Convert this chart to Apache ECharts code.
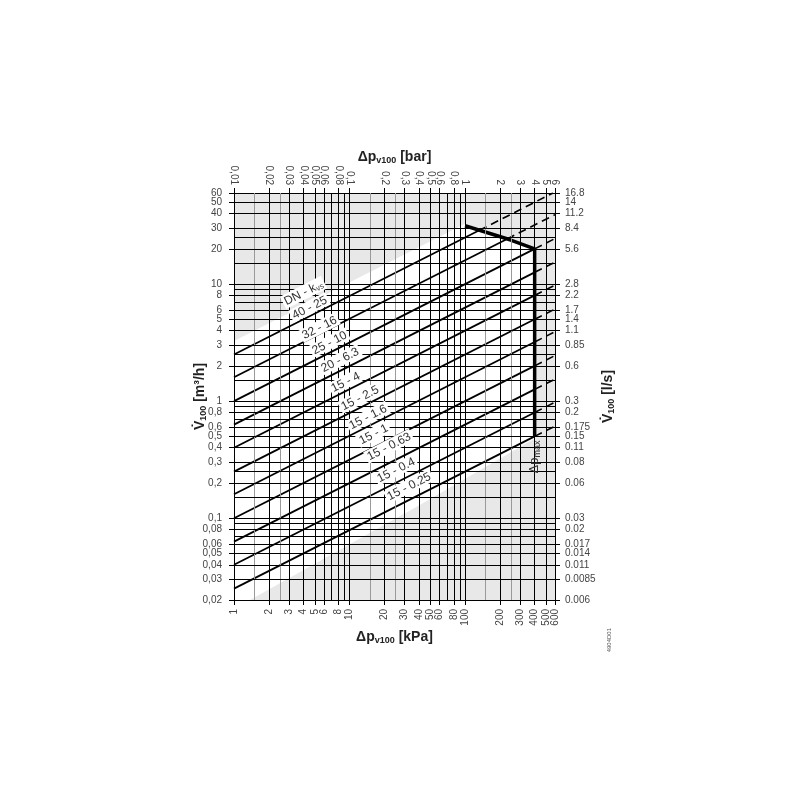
<!DOCTYPE html>
<html><head><meta charset="utf-8">
<script src="https://cdn.jsdelivr.net/npm/echarts@6/dist/echarts.min.js"></script>
<style>html,body{margin:0;padding:0;background:#fff}#c{width:800px;height:800px}</style>
</head><body><div id="c"></div>
<script>
// ---------- axis ticks ----------
const dpTicks = [1,2,3,4,5,6,8,10,20,30,40,50,60,80,100,200,300,400,500,600];
const barTicks = [0.01,0.02,0.03,0.04,0.05,0.06,0.08,0.1,0.2,0.3,0.4,0.5,0.6,0.8,1,2,3,4,5,6];
const barLabels = ['0,01','0,02','0,03','0,04','0,05','0,06','0,08','0,1','0,2','0,3','0,4','0,5','0,6','0,8','1','2','3','4','5','6'];
const flowTicks = [60,50,40,30,20,10,8,6,5,4,3,2,1,0.8,0.6,0.5,0.4,0.3,0.2,0.1,0.08,0.06,0.05,0.04,0.03,0.02];
const flowLabels = ['60','50','40','30','20','10','8','6','5','4','3','2','1','0,8','0,6','0,5','0,4','0,3','0,2','0,1','0,08','0,06','0,05','0,04','0,03','0,02'];
const lsLabels = ['16.8','14','11.2','8.4','5.6','2.8','2.2','1.7','1.4','1.1','0.85','0.6','0.3','0.2','0.175','0.15','0.11','0.08','0.06','0.03','0.02','0.017','0.014','0.011','0.0085','0.006'];

// ---------- grid lines ----------
const gridXBlack = [2,3,4,5,6,7,8,9,10,20,30,40,50,60,70,80,90,100,200,300,400,500];
const gridXGray = [1.5,2.5,15,25,150,250];
const gridY = [0.025,0.03,0.04,0.05,0.06,0.07,0.08,0.09,0.1,0.15,0.2,0.25,0.3,0.4,0.5,0.6,0.7,0.8,0.9,1,1.5,2,2.5,3,4,5,6,7,8,9,10,15,20,25,30,40,50];

// ---------- valve lines (Kvs) ----------
const kvsNames = ['40 - 25','32 - 16','25 - 10','20 - 6.3','15 - 4','15 - 2.5','15 - 1.6','15 - 1','15 - 0.63','15 - 0.4','15 - 0.25'];
const startDp = [1,1,1,1,1,1,1,1,1,1,1];
const startV  = [2.5,1.6,1.0,0.63,0.4,0.25,0.16,0.1,0.063,0.04,0.025];
const solidEndDp = [133,231,400,400,400,400,400,400,400,400,400];
const solidEndV  = [28.8,24.3,20,12.6,8,5,3.2,2,1.26,0.8,0.5];
const dashEndDp = [576,600,600,600,600,600,600,600,600,600,600];
const dashEndV  = [60,39.2,24.5,15.4,9.8,6.12,3.92,2.45,1.54,0.98,0.61];

// ---------- max pressure curve ----------
const maxDp = [100,245,400,400];
const maxV  = [31.5,23.9,20,0.5];

// ---------- label anchors ----------
const labelTexts = ['DN - k|vs'].concat(kvsNames);
const labelDp = [2.66,3.12,3.80,4.64,5.55,6.78,8.27,9.70,11.85,13.9,16.96,20.7];
const labelV  = [6.91,5.25,3.54,2.63,1.85,1.25,0.875,0.602,0.448,0.327,0.212,0.149];

// ---------- white band in background ----------
const bandDp = [1,100,400,400,40.9,1.375,1];
const bandV  = [3.27,32.7,20,0.48,0.13,0.02,0.02];

const FONT = '"Liberation Sans", Arial, sans-serif';
function lookup(vals, labels, v) {
  for (let i = 0; i < vals.length; i++) if (Math.abs(vals[i] / v - 1) < 1e-6) return labels[i];
  return '';
}
const maxOf = a => Math.max.apply(null, a);
const withoutMax = a => a.filter(v => v !== maxOf(a));
const chart = echarts.init(document.getElementById('c'), null, {renderer: 'canvas'});

const axisLineStyle = {color: '#000', width: 1};
const tickLabel = {fontSize: 10, color: '#444', fontFamily: FONT, hideOverlap: false, showMaxLabel: true, showMinLabel: true};
const nameStyle = {
  fontFamily: FONT, fontSize: 14, fontWeight: 'bold', color: '#222',
  rich: {
    a: {fontFamily: FONT, fontSize: 14, fontWeight: 'bold', color: '#222'},
    s: {fontFamily: FONT, fontSize: 9, fontWeight: 'bold', color: '#222', padding: [6, 0, 0, 0]}
  }
};

const series = [];
series.push({
  type: 'custom', name: 'band', xAxisIndex: 0, yAxisIndex: 0, silent: true, z: 0,
  data: [0],
  renderItem: function (params, api) {
    return {type: 'polygon', shape: {points: bandDp.map((d, i) => api.coord([d, bandV[i]]))}, style: {fill: '#ffffff'}};
  }
});
series.push({
  type: 'line', name: 'grid', xAxisIndex: 0, yAxisIndex: 0, silent: true, z: 1,
  data: [[1, 0.02]], symbol: 'none', lineStyle: {width: 0},
  markLine: {
    silent: true, symbol: ['none', 'none'], label: {show: false}, animation: false,
    lineStyle: {color: '#000', width: 1, type: 'solid'},
    data: gridXBlack.map(v => ({xAxis: v}))
      .concat(gridXGray.map(v => ({xAxis: v, lineStyle: {color: '#9a9a9a', width: 1, type: 'solid'}})))
      .concat(gridY.map(v => ({yAxis: v})))
  }
});
for (let i = 0; i < kvsNames.length; i++) {
  series.push({
    type: 'line', name: kvsNames[i], xAxisIndex: 0, yAxisIndex: 0, z: 3, symbol: 'none', silent: true,
    data: [[startDp[i], startV[i]], [solidEndDp[i], solidEndV[i]]],
    lineStyle: {color: '#000', width: 1.8}
  });
  series.push({
    type: 'line', name: kvsNames[i] + ' ext', xAxisIndex: 0, yAxisIndex: 0, z: 3, symbol: 'none', silent: true,
    data: [[solidEndDp[i], solidEndV[i]], [dashEndDp[i], dashEndV[i]]],
    lineStyle: {color: '#000', width: 1.6, type: [8, 5]}
  });
}
series.push({
  type: 'line', name: 'dpmax', xAxisIndex: 0, yAxisIndex: 0, z: 4, symbol: 'none', silent: true,
  data: maxDp.map((d, i) => [d, maxV[i]]),
  lineStyle: {color: '#000', width: 3.5}
});
series.push({
  type: 'scatter', name: 'labels', xAxisIndex: 0, yAxisIndex: 0, z: 6, symbolSize: 1, silent: true,
  itemStyle: {opacity: 0},
  data: labelDp.map((d, i) => [d, labelV[i], i]),
  label: {
    show: true, position: 'inside', align: 'left', verticalAlign: 'middle', rotate: 27,
    backgroundColor: '#ffffff', padding: [1, 2, 0, 2], opacity: 1,
    textBorderWidth: 0, fontFamily: FONT, fontSize: 12, color: '#333',
    formatter: function (p) {
      const t = labelTexts[p.data[2]];
      if (t.indexOf('|') >= 0) { const parts = t.split('|'); return '{a|' + parts[0] + '}{s|' + parts[1] + '}'; }
      return '{a|' + t + '}';
    },
    rich: {
      a: {fontFamily: FONT, fontSize: 12, color: '#333', textBorderWidth: 0},
      s: {fontFamily: FONT, fontSize: 8, color: '#333', textBorderWidth: 0, padding: [5, 0, 0, 0]}
    }
  },
  labelLayout: {hideOverlap: false}
});
series.push({
  type: 'scatter', name: 'dpmaxlabel', xAxisIndex: 0, yAxisIndex: 0, z: 6, symbolSize: 1, silent: true,
  itemStyle: {opacity: 0},
  data: [[400, 0.333]],
  label: {
    show: true, position: 'inside', align: 'center', verticalAlign: 'middle', rotate: 90,
    textBorderWidth: 0, opacity: 1,
    formatter: '{a|Δp}{s|max}',
    rich: {
      a: {fontFamily: FONT, fontSize: 13, color: '#333', textBorderWidth: 0},
      s: {fontFamily: FONT, fontSize: 9, color: '#333', textBorderWidth: 0, padding: [5, 0, 0, 0]}
    }
  }
});

// main axes carry every label but the end one; an overlaid twin axis carries the end label
function xAx(min, max, pos, ticks, labels, margin, main, name, gap) {
  const o = {
    type: 'log', logBase: 10, min: min, max: max * 1.000001, position: pos, gridIndex: 0,
    axisLine: {show: main, lineStyle: axisLineStyle},
    axisTick: {show: main, customValues: ticks, length: 5, lineStyle: axisLineStyle},
    axisLabel: Object.assign({customValues: main ? withoutMax(ticks) : [maxOf(ticks)], rotate: 90, margin: margin,
      formatter: v => lookup(ticks, labels, v)}, tickLabel),
    splitLine: {show: false}
  };
  if (name) Object.assign(o, {name: name, nameLocation: 'middle', nameGap: gap, nameMoveOverlap: false, nameTextStyle: nameStyle});
  return o;
}
function yAx(pos, labels, margin, align, main, name, gap) {
  const o = {
    type: 'log', logBase: 10, min: 0.02, max: 60 * 1.000001, position: pos, gridIndex: 0,
    axisLine: {show: main, lineStyle: axisLineStyle},
    axisTick: {show: main, customValues: flowTicks, length: 5, lineStyle: axisLineStyle},
    axisLabel: Object.assign({customValues: main ? withoutMax(flowTicks) : [maxOf(flowTicks)], margin: margin, align: align,
      formatter: v => lookup(flowTicks, labels, v)}, tickLabel),
    splitLine: {show: false}
  };
  if (name) Object.assign(o, {name: name, nameLocation: 'middle', nameGap: gap, nameRotate: 90, nameMoveOverlap: false, nameTextStyle: nameStyle});
  return o;
}

const option = {
  animation: false,
  backgroundColor: '#ffffff',
  grid: {left: 234, right: 245, top: 193, bottom: 200, show: true, backgroundColor: '#e8e8e8', borderWidth: 0},
  xAxis: [
    xAx(1, 600, 'bottom', dpTicks, dpTicks.map(String), 9, true, '{a|Δp}{s|v100}{a| [kPa]}', 30),
    xAx(0.01, 6, 'top', barTicks, barLabels, 8, true, '{a|Δp}{s|v100}{a| [bar]}', 28),
    xAx(1, 600, 'bottom', dpTicks, dpTicks.map(String), 9, false),
    xAx(0.01, 6, 'top', barTicks, barLabels, 8, false)
  ],
  yAxis: [
    yAx('left', flowLabels, 12, 'right', true, '{a|V̇}{s|100}{a| [m³/h]}', 26),
    yAx('right', lsLabels, 10, 'left', true, '{a|V̇}{s|100}{a| [l/s]}', 46),
    yAx('left', flowLabels, 12, 'right', false),
    yAx('right', lsLabels, 10, 'left', false)
  ],
  graphic: [{
    type: 'text', left: 606, top: 628, rotation: Math.PI / 2,
    style: {text: '4904D01', fontSize: 6, fontFamily: FONT, fill: '#555'}
  }],
  series: series
};
chart.setOption(option);
</script></body></html>
